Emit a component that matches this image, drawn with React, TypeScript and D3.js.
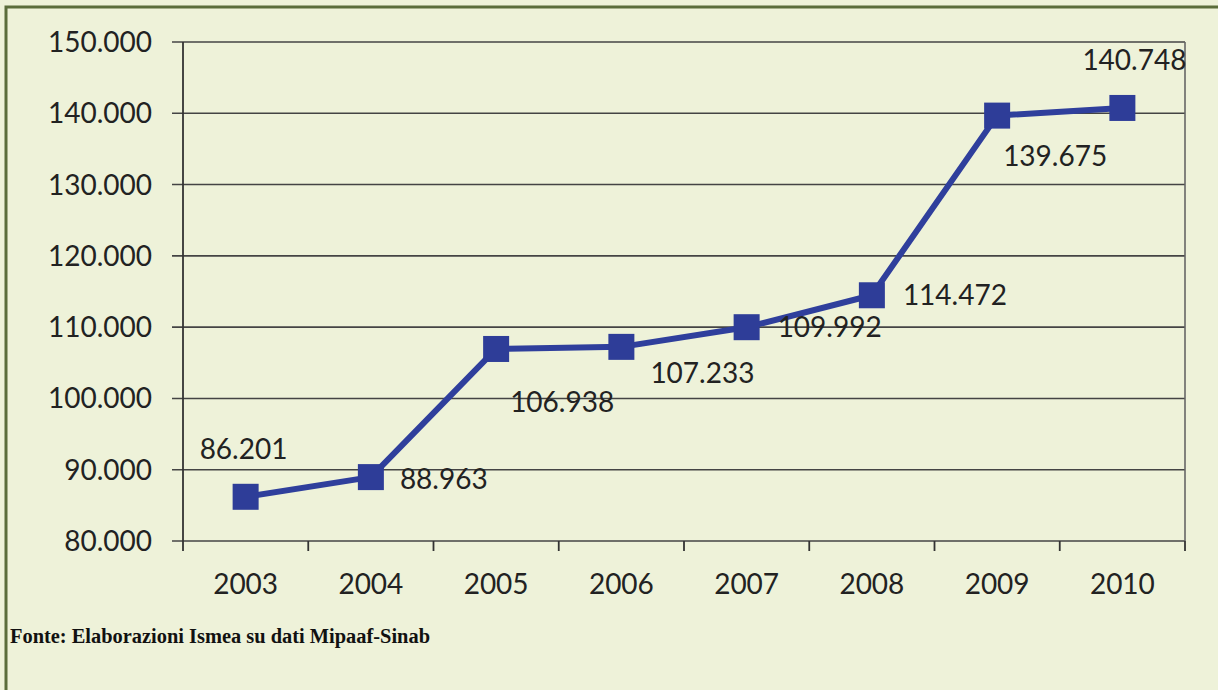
import React from "react";
import * as d3 from "d3";

const years = ["2003", "2004", "2005", "2006", "2007", "2008", "2009", "2010"];
const values = [86201, 88963, 106938, 107233, 109992, 114472, 139675, 140748];
const valueLabels = ["86.201", "88.963", "106.938", "107.233", "109.992", "114.472", "139.675", "140.748"];
const yTicks = [80000, 90000, 100000, 110000, 120000, 130000, 140000, 150000];
// label placement relative to marker centre (text start, baseline)
const labelOffsets: [number, number][] = [
  [-46, -38], [29, 12], [14, 63], [29, 36], [31, 10], [31, 10], [6, 50], [-40, -38],
];
const sourceText = "Fonte: Elaborazioni Ismea su dati Mipaaf-Sinab";

const W = 1218;
const H = 690;
const left = 183, right = 1185, top = 42, bottom = 541;

export default function App() {
  const x = d3.scaleBand<string>().domain(years).range([left, right]);
  const y = d3.scaleLinear().domain([80000, 150000]).range([bottom, top]);
  const fmt = (v: number) => d3.format(",.3f")(v / 1000).replace(/,/g, ".");
  const cx = (i: number) => (x(years[i]) as number) + x.bandwidth() / 2;
  const line = d3
    .line<number>()
    .x((_, i) => cx(i))
    .y((d) => y(d));
  const font = "Lato, 'Open Sans', sans-serif";
  const ms = 26;
  const boundaries = [...years.map((yr) => x(yr) as number), right];

  return (
    <svg
      width={W}
      height={H}
      style={{ position: "absolute", left: 0, top: 0, display: "block" }}
    >
      <rect x={0} y={0} width={W} height={H} fill="#eef2d9" />
      <rect x={6} y={7} width={W + 20} height={H + 20} fill="none" stroke="#5b6d3b" strokeWidth={3} />
      {/* gridlines */}
      {yTicks.map((t) => (
        <line key={t} x1={left - 11} x2={right} y1={y(t)} y2={y(t)} stroke="#444" strokeWidth={1.6} />
      ))}
      {/* plot frame right side */}
      <line x1={right} x2={right} y1={top} y2={bottom} stroke="#666" strokeWidth={1.6} />
      {/* y axis */}
      <line x1={left} x2={left} y1={top} y2={bottom} stroke="#333" strokeWidth={1.8} />
      {/* x ticks */}
      {boundaries.map((b, i) => (
        <line key={i} x1={b} x2={b} y1={bottom} y2={bottom + 10} stroke="#333" strokeWidth={1.8} />
      ))}
      {/* y tick labels */}
      {yTicks.map((t) => (
        <text key={t} x={152} y={y(t) + 10} textAnchor="end" fontFamily={font} fontSize={28} fill="#222">
          {fmt(t)}
        </text>
      ))}
      {/* x labels */}
      {years.map((yr, i) => (
        <text key={yr} x={cx(i)} y={594} textAnchor="middle" fontFamily={font} fontSize={28} fill="#222">
          {yr}
        </text>
      ))}
      {/* series line */}
      <path d={line(values) || ""} fill="none" stroke="#2f3f9c" strokeWidth={6} strokeLinejoin="round" />
      {values.map((v, i) => (
        <rect key={i} x={cx(i) - ms / 2} y={y(v) - ms / 2} width={ms} height={ms} fill="#2e3d98" />
      ))}
      {/* value labels */}
      {values.map((v, i) => (
        <text
          key={"l" + i}
          x={cx(i) + labelOffsets[i][0]}
          y={y(v) + labelOffsets[i][1]}
          fontFamily={font}
          fontSize={28}
          fill="#222"
        >
          {valueLabels[i]}
        </text>
      ))}
      <text
        x={10}
        y={643}
        fontFamily="'Liberation Serif', 'Times New Roman', serif"
        fontWeight="bold"
        fontSize={20}
        textLength={420}
        lengthAdjust="spacingAndGlyphs"
        fill="#111"
      >
        {sourceText}
      </text>
    </svg>
  );
}
